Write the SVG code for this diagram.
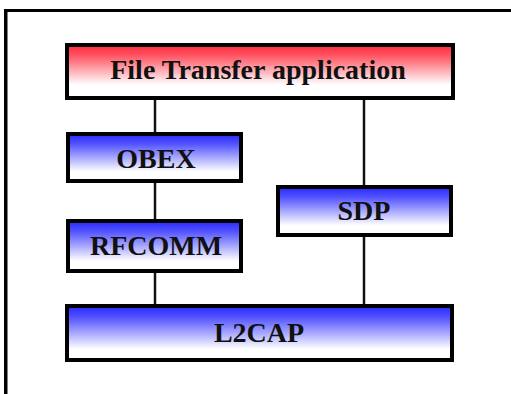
<svg xmlns="http://www.w3.org/2000/svg" width="511" height="394" viewBox="0 0 511 394">
  <defs>
    <linearGradient id="gRed" x1="0" y1="0" x2="0" y2="1">
      <stop offset="0" stop-color="#ff2a3c"/>
      <stop offset="0.2" stop-color="#ff5563"/>
      <stop offset="0.75" stop-color="#ffffff"/>
      <stop offset="1" stop-color="#ffffff"/>
    </linearGradient>
    <linearGradient id="gBlue" x1="0" y1="0" x2="0" y2="1">
      <stop offset="0" stop-color="#2828ff"/>
      <stop offset="0.2" stop-color="#5050ff"/>
      <stop offset="0.8" stop-color="#ffffff"/>
      <stop offset="1" stop-color="#ffffff"/>
    </linearGradient>
  </defs>
  <style>
    .box { stroke: #000; stroke-width: 4; }
    .red { fill: url(#gRed); }
    .blue { fill: url(#gBlue); }
    .lbl { font-family: "Liberation Serif", "Times New Roman", serif; font-weight: bold; font-size: 28px; fill: #111; text-anchor: middle; }
    .conn { stroke: #111; stroke-width: 2.5; fill: none; }
  </style>
  <rect x="0" y="0" width="511" height="394" fill="#ffffff"/>
  <g id="frame">
    <rect x="4" y="9" width="507" height="3" fill="#000"/>
    <rect x="4" y="9" width="3.5" height="385" fill="#000"/>
  </g>
  <g id="connectors">
    <line class="conn" x1="155" y1="100" x2="155" y2="132"/>
    <line class="conn" x1="155" y1="183" x2="155" y2="219"/>
    <line class="conn" x1="155" y1="273" x2="155" y2="304"/>
    <line class="conn" x1="364" y1="100" x2="364" y2="185"/>
    <line class="conn" x1="364" y1="237" x2="364" y2="304"/>
  </g>
  <g id="app">
    <rect class="box red" x="67" y="45" width="386" height="53"/>
    <text class="lbl" x="258" y="79">File Transfer application</text>
  </g>
  <g id="obex">
    <rect class="box blue" x="68" y="134" width="173" height="47"/>
    <text class="lbl" x="156" y="168">OBEX</text>
  </g>
  <g id="sdp">
    <rect class="box blue" x="278" y="187" width="173" height="48"/>
    <text class="lbl" x="364" y="220">SDP</text>
  </g>
  <g id="rfcomm">
    <rect class="box blue" x="68" y="221" width="173" height="50"/>
    <text class="lbl" x="156" y="255">RFCOMM</text>
  </g>
  <g id="l2cap">
    <rect class="box blue" x="67" y="306" width="385" height="54"/>
    <text class="lbl" x="259" y="342">L2CAP</text>
  </g>
</svg>
